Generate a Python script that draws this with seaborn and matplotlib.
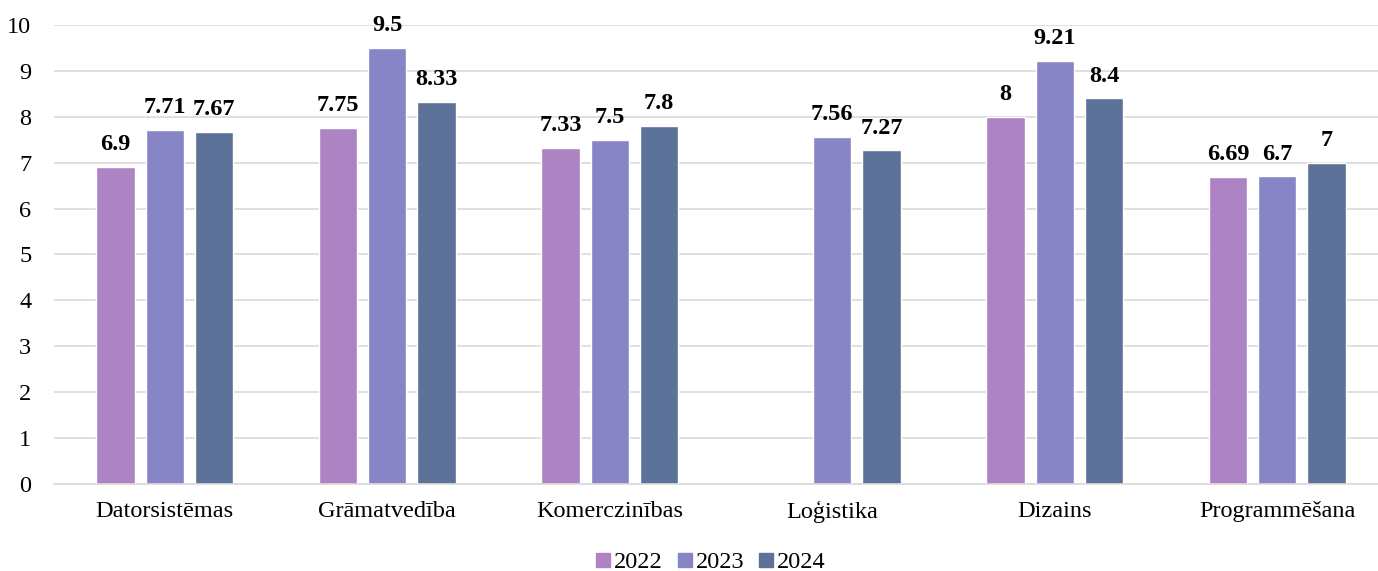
import matplotlib
matplotlib.use("Agg")
import matplotlib.pyplot as plt
import seaborn as sns
import pandas as pd
import numpy as np
from matplotlib.lines import Line2D

categories = ["Datorsistēmas", "Grāmatvedība", "Komerczinības", "Loģistika", "Dizains", "Programmēšana"]
years = ["2022", "2023", "2024"]
v2022 = [6.9, 7.75, 7.33, np.nan, 8.0, 6.69]
v2023 = [7.71, 9.5, 7.5, 7.56, 9.21, 6.7]
v2024 = [7.67, 8.33, 7.8, 7.27, 8.4, 7.0]
colors = ["#AE83C4", "#8885C6", "#5D7299"]

sns.set_style("white")
plt.rcParams['font.family'] = ['Liberation Serif', 'DejaVu Serif']
plt.rcParams['text.color'] = 'black'

rows = []
for yr, vals in zip(years, [v2022, v2023, v2024]):
    for c, v in zip(categories, vals):
        rows.append({"cat": c, "year": yr, "val": v})
df = pd.DataFrame(rows)

W, H = 1378, 571
fig = plt.figure(figsize=(W / 100, H / 100), dpi=100)
ax = fig.add_axes([53.5 / W, 1 - 484 / H, 1335 / W, (484 - 25) / H])
sns.barplot(data=df, x="cat", y="val", hue="year", order=categories, hue_order=years,
            palette=colors, saturation=1, width=0.665, gap=0.22, ax=ax,
            errorbar=None, legend=False)

ax.set_ylim(0, 10)
ax.set_yticks(range(0, 11))
ax.set_xlim(-0.5, len(categories) - 0.5)
ax.yaxis.grid(True, color="#D9D9D9", linewidth=1.2)
ax.set_axisbelow(True)
for s in ["top", "right", "left"]:
    ax.spines[s].set_visible(False)
ax.spines["bottom"].set_color("#D9D9D9")
ax.spines["bottom"].set_linewidth(1.2)
ax.tick_params(axis="both", length=0, labelsize=17.5, colors="black", labelcolor="black")
ax.tick_params(axis="x", pad=12)
ax.tick_params(axis="y", pad=16)
ax.set_xlabel("")
ax.set_ylabel("")

for cont in ax.containers:
    for bar in cont:
        if bar is None:
            continue
        h = bar.get_height()
        if not np.isfinite(h):
            continue
        ax.annotate(f"{h:g}", (bar.get_x() + bar.get_width() / 2, h), xytext=(0, 8.5),
                    textcoords="offset points", ha="center", va="bottom",
                    fontsize=17.5, fontweight="bold", color="black")

handles = [Line2D([], [], marker="s", linestyle="", markersize=9.5, color=c) for c in colors]
fig.legend(handles, years, loc="center", bbox_to_anchor=(710 / W, 1 - 562 / H), ncol=3,
           frameon=False, fontsize=17.5, handlelength=0.7, handletextpad=0.1,
           columnspacing=0.55, labelcolor="black")

fig.savefig("out.png", dpi=100)
